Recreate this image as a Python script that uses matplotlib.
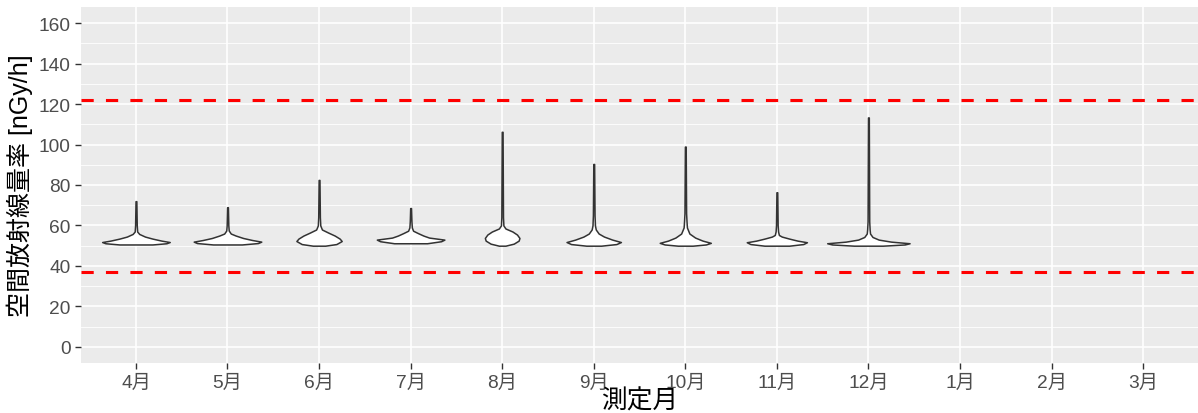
import matplotlib
matplotlib.use('Agg')
import matplotlib.pyplot as plt
import numpy as np

# 測定月
months = ['4月', '5月', '6月', '7月', '8月', '9月', '10月', '11月', '12月', '1月', '2月', '3月']

# バイオリンの形（値 [nGy/h] と相対密度）— 画像から読み取り
v_levels = {
    '4月':  [50.6, 51.2, 51.8, 52.5, 53.5, 54.5, 55.8, 57.0, 60.0, 72.0],
    '5月':  [50.6, 51.3, 52.0, 52.8, 53.8, 55.0, 56.0, 57.5, 60.0, 69.0],
    '6月':  [50.0, 50.8, 52.3, 53.5, 55.0, 56.5, 58.0, 60.0, 64.0, 82.5],
    '7月':  [51.2, 52.2, 53.0, 54.0, 55.0, 56.2, 57.4, 59.0, 62.0, 68.6],
    '8月':  [50.0, 51.0, 52.5, 53.8, 55.5, 57.0, 58.5, 60.0, 64.0, 106.3],
    '9月':  [50.0, 50.8, 51.8, 53.0, 54.5, 56.0, 58.0, 60.0, 65.0, 90.4],
    '10月': [50.0, 50.6, 51.4, 52.5, 54.0, 56.0, 59.0, 62.0, 66.0, 99.0],
    '11月': [50.0, 50.8, 51.7, 52.5, 53.5, 54.5, 55.3, 57.0, 60.0, 76.4],
    '12月': [50.0, 50.6, 51.2, 52.0, 53.0, 54.3, 56.0, 58.0, 62.0, 113.4],
}
v_density = {
    '4月':  [0.40, 0.74, 0.82, 0.62, 0.40, 0.22, 0.08, 0.03, 0.02, 0.01],
    '5月':  [0.35, 0.74, 0.82, 0.60, 0.38, 0.20, 0.08, 0.03, 0.02, 0.01],
    '6月':  [0.15, 0.42, 0.55, 0.50, 0.38, 0.22, 0.07, 0.03, 0.02, 0.01],
    '7月':  [0.40, 0.74, 0.82, 0.45, 0.31, 0.18, 0.06, 0.03, 0.02, 0.01],
    '8月':  [0.08, 0.28, 0.40, 0.42, 0.36, 0.25, 0.08, 0.03, 0.02, 0.01],
    '9月':  [0.18, 0.55, 0.66, 0.45, 0.25, 0.12, 0.05, 0.03, 0.02, 0.01],
    '10月': [0.18, 0.50, 0.62, 0.42, 0.24, 0.10, 0.04, 0.03, 0.02, 0.01],
    '11月': [0.30, 0.64, 0.73, 0.50, 0.30, 0.12, 0.05, 0.03, 0.02, 0.01],
    '12月': [0.35, 0.88, 1.00, 0.55, 0.25, 0.10, 0.04, 0.03, 0.02, 0.01],
}

# 基準線
ref_lines = [122, 37]

plt.rcParams['font.family'] = ['Liberation Sans', 'Noto Sans CJK JP', 'DejaVu Sans']

fig = plt.figure(figsize=(11.98, 4.14), dpi=100)
ax = fig.add_axes([81 / 1198, 50 / 414, 1117 / 1198, 356 / 414])
ax.set_facecolor('#EBEBEB')
for s in ax.spines.values():
    s.set_visible(False)

x = np.arange(1, len(months) + 1)
ax.set_xlim(0.4, len(months) + 0.6)
ax.set_ylim(-8, 168)

# グリッド
for yv in range(10, 170, 20):
    ax.axhline(yv, color='white', lw=0.6, zorder=0)
for yv in range(0, 170, 20):
    ax.axhline(yv, color='white', lw=1.2, zorder=0)
for xv in x:
    ax.axvline(xv, color='white', lw=1.2, zorder=0)

# バイオリン
for i, m in enumerate(months):
    if m not in v_levels:
        continue
    yy = np.array(v_levels[m])
    hw = np.array(v_density[m]) * 0.45
    ax.fill_betweenx(yy, x[i] - hw, x[i] + hw, facecolor='white',
                     edgecolor='#333333', lw=1.1, zorder=3)

for r in ref_lines:
    ax.axhline(r, color='#FF0000', lw=2.2, ls=(0, (4, 4)), zorder=4)

ax.set_xticks(x)
ax.set_xticklabels(months)
ax.set_yticks(range(0, 161, 20))
ax.tick_params(axis='both', colors='#333333', labelcolor='#4D4D4D',
               labelsize=13.8, length=4, width=1)
ax.set_xlabel('測定月', fontsize=18.5, labelpad=-2, color='black')
ax.set_ylabel('空間放射線量率 [nGy/h]', fontsize=18, labelpad=4, color='black')

fig.savefig('out.png', dpi=100)
